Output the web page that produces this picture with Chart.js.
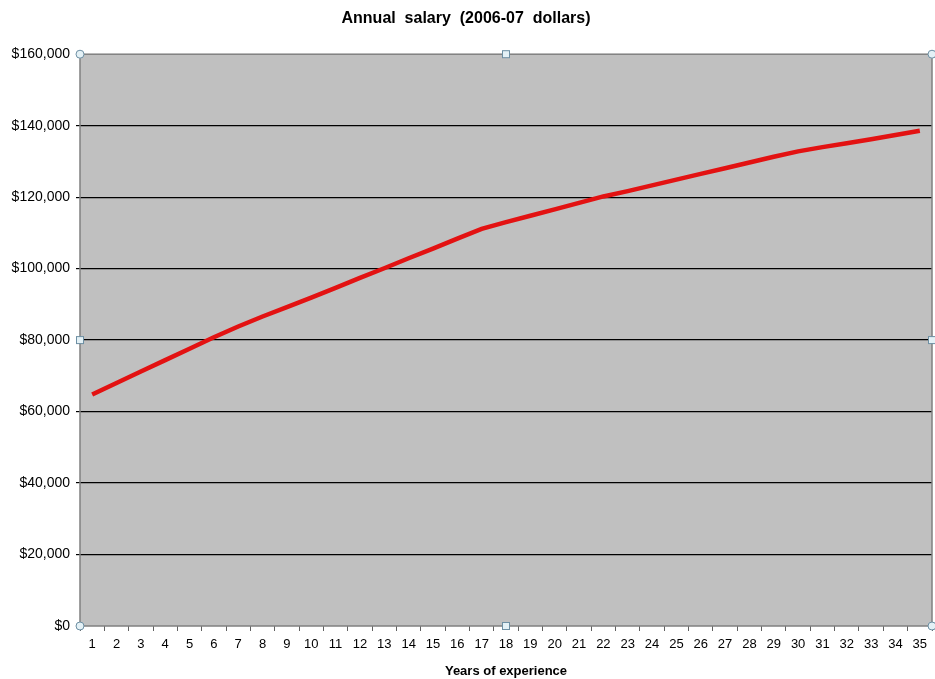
<!DOCTYPE html>
<html>
<head>
<meta charset="utf-8">
<script src="https://cdn.jsdelivr.net/npm/chart.js@4"></script>
<style>
  html, body { margin: 0; padding: 0; background: #fff; }
  #wrap { width: 935px; height: 679px; }
</style>
</head>
<body>
<div id="wrap"><canvas id="salaryChart" width="935" height="679"></canvas></div>
<script>
// Years of experience 1..35
const years = ['1','2','3','4','5','6','7','8','9','10','11','12','13','14','15','16','17','18','19','20',
  '21','22','23','24','25','26','27','28','29','30','31','32','33','34','35'];

// Annual salary (2006-07 dollars)
const salary = [64800, 68000, 71200, 74400, 77600, 80800, 83800, 86600, 89200, 91900,
  94600, 97400, 100100, 102900, 105600, 108400, 111100, 113000, 114800, 116600,
  118400, 120200, 121700, 123300, 124900, 126500, 128100, 129700, 131300, 132800,
  134000, 135100, 136200, 137400, 138600];

const yMin = 0;
const yMax = 160000;
const yStep = 20000;

const fontFamily = 'Arial, "Liberation Sans", sans-serif';

// Grey plot area with border and the little selection handles
const plotArea = {
    id: 'plotArea',
    beforeDraw(chart) {
        const { ctx, chartArea: a } = chart;
        ctx.save();
        ctx.fillStyle = '#c0c0c0';
        ctx.fillRect(a.left, a.top, a.right - a.left, a.bottom - a.top);
        ctx.restore();
    },
    afterDraw(chart) {
        const { ctx, chartArea: a } = chart;
        ctx.save();
        ctx.strokeStyle = '#808080';
        ctx.lineWidth = 1.5;
        ctx.strokeRect(a.left, a.top, a.right - a.left, a.bottom - a.top);

        // handles: circles at corners, squares at mid edges
        ctx.fillStyle = '#e4f1f6';
        ctx.strokeStyle = '#6d8fa3';
        ctx.lineWidth = 1;
        const midX = (a.left + a.right) / 2;
        const midY = (a.top + a.bottom) / 2;
        [[a.left, a.top], [a.right, a.top], [a.left, a.bottom], [a.right, a.bottom]].forEach(p => {
            ctx.beginPath();
            ctx.arc(p[0], p[1], 4, 0, Math.PI * 2);
            ctx.fill();
            ctx.stroke();
        });
        [[midX, a.top], [midX, a.bottom], [a.left, midY], [a.right, midY]].forEach(p => {
            ctx.fillRect(p[0] - 3.5, p[1] - 3.5, 7, 7);
            ctx.strokeRect(p[0] - 3.5, p[1] - 3.5, 7, 7);
        });
        ctx.restore();
    }
};

const ctx = document.getElementById('salaryChart').getContext('2d');
new Chart(ctx, {
    type: 'line',
    data: {
        labels: years,
        datasets: [{
            label: 'Annual salary',
            data: salary,
            borderColor: '#e31212',
            borderWidth: 4.5,
            pointRadius: 0,
            tension: 0,
            fill: false
        }]
    },
    options: {
        responsive: false,
        animation: false,
        layout: { padding: { left: 0, right: 3, top: 0, bottom: 0 } },
        plugins: {
            legend: { display: false },
            tooltip: { enabled: false },
            title: {
                display: true,
                text: 'Annual  salary  (2006-07  dollars)',
                color: '#000',
                font: { family: fontFamily, size: 16, weight: 'bold' },
                padding: { top: 9, bottom: 26 }
            }
        },
        scales: {
            x: {
                type: 'category',
                offset: true,
                grid: {
                    offset: true,
                    drawOnChartArea: false,
                    drawTicks: true,
                    tickLength: 5,
                    color: '#606060'
                },
                border: { display: false },
                ticks: {
                    color: '#000',
                    font: { family: fontFamily, size: 13 },
                    padding: 6,
                    maxRotation: 0,
                    autoSkip: false
                },
                title: {
                    display: true,
                    text: 'Years of experience',
                    color: '#000',
                    font: { family: fontFamily, size: 13, weight: 'bold' },
                    padding: { top: 0, bottom: 0 }
                },
                afterFit(scale) { scale.height = 53; }
            },
            y: {
                min: yMin,
                max: yMax,
                grid: {
                    color: (c) => (c.tick && (c.tick.value === yMin || c.tick.value === yMax)) ? 'rgba(0,0,0,0)' : '#000',
                    lineWidth: 1.2,
                    tickLength: 4,
                    tickColor: '#000'
                },
                border: { display: false },
                ticks: {
                    stepSize: yStep,
                    color: '#000',
                    font: { family: fontFamily, size: 14 },
                    padding: 6,
                    callback: (v) => '$' + v.toLocaleString('en-US')
                },
                afterFit(scale) { scale.width = 80; }
            }
        }
    },
    plugins: [plotArea]
});
</script>
</body>
</html>
